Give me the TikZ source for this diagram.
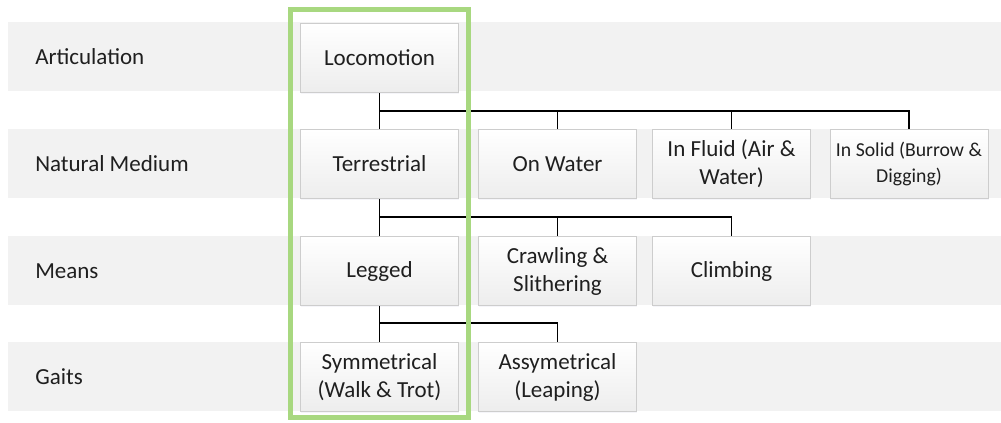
\documentclass[tikz,border=0pt]{standalone}
\usepackage{fontspec}
\setmainfont{Carlito}
\usetikzlibrary{shadows}
\definecolor{bandgray}{HTML}{F2F2F2}
\definecolor{boxedge}{HTML}{CDCDCD}
\definecolor{boxbottom}{HTML}{EDEDED}
\definecolor{focusgreen}{RGB}{168,216,128}
\definecolor{txt}{HTML}{1F1F1F}
\tikzset{
  band/.style={fill=bandgray, draw=none},
  rowlabel/.style={anchor=west, inner sep=0pt, text=txt, font=\fontsize{17.25pt}{21pt}\selectfont},
  box/.style={rectangle, draw=boxedge, line width=0.6pt, top color=white, middle color=white, bottom color=boxbottom,
    minimum width=118.5pt, minimum height=52pt, inner sep=1pt, align=center, text=txt,
    font=\fontsize{17.25pt}{21pt}\selectfont,
    drop shadow={shadow xshift=0.5pt, shadow yshift=-0.7pt, opacity=0.18, fill=blue!25!gray!35}},
  smalltext/.style={font=\fontsize{14.8pt}{19.5pt}\selectfont},
  link/.style={draw=black, line width=1pt},
  focus/.style={draw=focusgreen, line width=3.6pt, fill=none}
}
\begin{document}
\begin{tikzpicture}[x=0.75pt, y=-0.75pt]
\useasboundingbox (0,0) rectangle (1001,422);
% bands
\path[band] (8,22) rectangle (1001,91);
\path[band] (8,129) rectangle (1001,198);
\path[band] (8,236) rectangle (1001,305);
\path[band] (8,342) rectangle (1001,411);
% row labels
\node[rowlabel] (l1) at (35,57) {Articulation};
\node[rowlabel] (l2) at (35,164) {Natural Medium};
\node[rowlabel] (l3) at (35,271) {Means};
\node[rowlabel] (l4) at (35,377) {Gaits};
% boxes
\node[box] (loco) at (379.5,58) {Locomotion};
\node[box] (terr) at (379.5,164) {Terrestrial};
\node[box] (water) at (557.5,164) {On Water};
\node[box] (fluid) at (731.5,164) {In Fluid (Air \&\\Water)};
\node[box, smalltext] (solid) at (909,164) {In Solid (Burrow \&\\Digging)};
\node[box] (legged) at (379.5,271) {Legged};
\node[box] (crawl) at (557.5,271) {Crawling \&\\Slithering};
\node[box] (climb) at (731.5,271) {Climbing};
\node[box] (sym) at (379.5,377) {Symmetrical\\(Walk \& Trot)};
\node[box] (asym) at (557.5,377) {Assymetrical\\(Leaping)};
% buses
\coordinate (b1) at (0,111);
\coordinate (b2) at (0,217);
\coordinate (b3) at (0,323);
\draw[link] (loco.south) |- (solid.north |- b1) -- (solid.north);
\draw[link] (terr.north) -- (terr.north |- b1);
\draw[link] (water.north) -- (water.north |- b1);
\draw[link] (fluid.north) -- (fluid.north |- b1);
\draw[link] (terr.south) |- (climb.north |- b2) -- (climb.north);
\draw[link] (legged.north) -- (legged.north |- b2);
\draw[link] (crawl.north) -- (crawl.north |- b2);
\draw[link] (legged.south) |- (asym.north |- b3) -- (asym.north);
\draw[link] (sym.north) -- (sym.north |- b3);
% focus frame
\draw[focus] (290.5,9.5) rectangle (468.5,417.5);
\end{tikzpicture}
\end{document}
